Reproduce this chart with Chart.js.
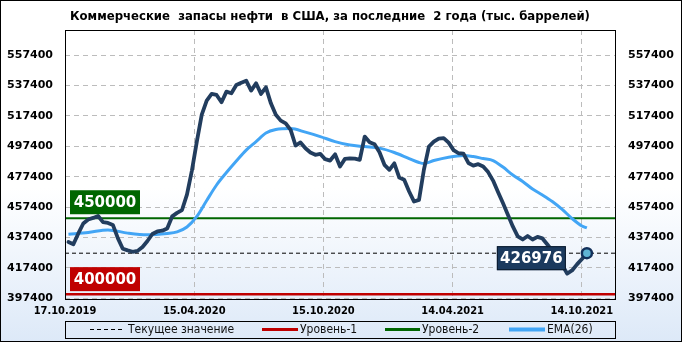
<!DOCTYPE html>
<html><head><meta charset="utf-8">
<script src="https://cdn.jsdelivr.net/npm/chart.js@4.4.1/dist/chart.umd.min.js"></script>
<style>
html,body{margin:0;padding:0;background:#fff;}
#wrap{position:relative;width:682px;height:342px;box-sizing:border-box;border:1px solid #000;
background:linear-gradient(to bottom,#ffffff 0%,#ffffff 55%,#dde9f8 100%);}
canvas{position:absolute;left:0;top:0;}
</style></head><body>
<div id="wrap"><canvas id="c" width="682" height="342"></canvas></div>
<script>
const chartTitle = 'Коммерческие  запасы нефти  в США, за последние  2 года (тыс. баррелей)';
const xTickLabels = ['17.10.2019','15.04.2020','15.10.2020','14.04.2021','14.10.2021'];
const xTickWeeks = [-0.7, 25.47, 51.64, 77.81, 103.98];
const yTickValues = [397400,417400,437400,457400,477400,497400,517400,537400,557400];
const legendLabels = ['Текущее значение','Уровень-1','Уровень-2','EMA(26)'];

// weekly commercial crude stocks, thousand barrels (week index 0 = 17.10.2019)
const stocks = [
434400,432900,440000,446550,449200,450200,451500,447400,446900,445600,
436900,429900,428800,427900,428500,431100,435000,439600,441300,441800,
443300,451200,453500,455400,465600,481400,500500,518300,527500,531900,
531200,526400,533400,532300,537800,539300,540600,534100,538900,531900,
536200,525700,518100,514300,512500,508200,497900,499900,496100,493300,
491800,492400,488900,488000,492100,484100,489100,489500,489300,488500,
503800,500000,498700,493500,485200,481900,486200,476800,475300,467600,
461000,462100,482100,497200,500500,502500,502800,499800,494900,492800,
492600,486400,484700,485600,484100,480400,474800,467300,460000,452300,
444600,438000,436000,438300,436000,437700,436700,432700,428500,424000,
419300,413500,415600,419600,423200,426976];

const emaWeeks = [0,4,8,12,16,20,22,24,26,28,30,32,34,36,38,40,42,45,48,51,54,57,60,63,66,69,71,72,74,77,80,82,84,86,88,90,92,94,96,98,100,102,104,105];
const emaValues = [439500,440600,442300,440200,439100,440000,441000,444200,451200,461700,471900,480100,487700,494900,500500,506100,508400,509100,506700,503800,500500,498200,497200,496200,493300,489300,486700,486000,488000,490200,491300,490600,489300,488000,483700,478500,474200,469200,465300,461000,455800,449800,444900,443600];

const level1 = 400000;
const level2 = 450000;
const currentValue = stocks[stocks.length - 1];

const X_MIN = -0.7, X_MAX = 110.9;
const Y_MIN = 396800, Y_MAX = 574000;

const lastIdx = stocks.length - 1;
const flat = v => [{x:X_MIN,y:v},{x:X_MAX,y:v}];

const deco = {
  id:'deco',
  afterDatasetsDraw(chart){
    const {ctx, chartArea:a, scales} = chart;
    const x = scales.x, y = scales.y;
    ctx.save();
    ctx.strokeStyle = '#000'; ctx.lineWidth = 1; ctx.setLineDash([]);
    ctx.strokeRect(a.left + 0.5, a.top + 0.5, a.right - a.left - 1, a.bottom - a.top);
    const box = (text, left, top, w, h, fill, stroke) => {
      ctx.fillStyle = fill; ctx.fillRect(left, top, w, h);
      if (stroke){ ctx.strokeStyle = stroke; ctx.lineWidth = 1; ctx.strokeRect(left+0.5, top+0.5, w-1, h-1); }
      ctx.fillStyle = '#fff'; ctx.font = 'bold 15px "DejaVu Sans"';
      ctx.textAlign = 'center'; ctx.textBaseline = 'middle';
      ctx.fillText(text, left + w/2, top + h/2 + 1);
    };
    const y2 = y.getPixelForValue(level2);
    box(String(level2), a.left + 5, y2 - 28, 70, 24, '#006600');
    const y1 = y.getPixelForValue(level1);
    box(String(level1), a.left + 5, y1 - 27, 70, 24, '#c00000');
    const lx = x.getPixelForValue(lastIdx), ly = y.getPixelForValue(currentValue);
    box(String(currentValue), lx - 90, ly - 7, 69, 24, '#1b3a5e', '#0b1a2c');
    ctx.restore();
  },
  afterDraw(chart){
    const {ctx, chartArea:a} = chart;
    ctx.save();
    ctx.fillStyle = '#000';
    ctx.font = 'bold 13px "DejaVu Sans Condensed", "DejaVu Sans"';
    ctx.textAlign = 'left'; ctx.textBaseline = 'middle';
    ctx.fillText(chartTitle, 69, 16);
    const top = 320, bot = 337, mid = 328.5;
    ctx.strokeStyle = '#000'; ctx.lineWidth = 1; ctx.setLineDash([]);
    ctx.strokeRect(a.left + 0.5, top + 0.5, a.right - a.left - 1, bot - top);
    const items = [
      {x1:89, x2:122, color:'#000', w:1, dash:[4,3], tx:127},
      {x1:261, x2:297, color:'#c00000', w:3, dash:[], tx:299},
      {x1:384, x2:419, color:'#006600', w:3, dash:[], tx:421},
      {x1:508, x2:544, color:'#42a5f5', w:4, dash:[], tx:546}
    ];
    ctx.font = '12px "DejaVu Sans Condensed", "DejaVu Sans"';
    ctx.textBaseline = 'middle';
    items.forEach((it, i) => {
      ctx.strokeStyle = it.color; ctx.lineWidth = it.w; ctx.setLineDash(it.dash);
      ctx.beginPath(); ctx.moveTo(it.x1, mid); ctx.lineTo(it.x2, mid); ctx.stroke();
      ctx.fillStyle = '#111';
      ctx.fillText(legendLabels[i], it.tx, mid + 0.5);
    });
    ctx.restore();
  }
};

const tickFont = {family:'"DejaVu Sans"', size:11, weight:'bold'};
const setYTicks = s => { s.ticks = yTickValues.map(v => ({value:v})); };

new Chart(document.getElementById('c'), {
  type:'line',
  data:{
    datasets:[
      {label:'stocks', data:stocks.map((v,i)=>({x:i,y:v})), borderColor:'#223d5e', borderWidth:3.8,
       tension:0, borderJoinStyle:'round', borderCapStyle:'round',
       pointRadius:c => c.dataIndex === lastIdx ? 5 : 0,
       pointBackgroundColor:'#5fb4d4', pointBorderColor:'#12305a', pointBorderWidth:2.5},
      {label:legendLabels[3], data:emaWeeks.map((w,i)=>({x:w,y:emaValues[i]})), borderColor:'#42a5f5',
       borderWidth:3, pointRadius:0, cubicInterpolationMode:'monotone'},
      {label:legendLabels[0], data:flat(currentValue), borderColor:'#000', borderWidth:1, borderDash:[4,3], pointRadius:0},
      {label:legendLabels[2], data:flat(level2), borderColor:'#006600', borderWidth:2, pointRadius:0},
      {label:legendLabels[1], data:flat(level1), borderColor:'#c00000', borderWidth:2.5, pointRadius:0}
    ]
  },
  options:{
    responsive:false, animation:false,
    layout:{padding:{top:29,left:0,right:0,bottom:0}},
    plugins:{legend:{display:false}, tooltip:{enabled:false}, title:{display:false}},
    scales:{
      x:{type:'linear', min:X_MIN, max:X_MAX, position:'bottom',
         afterFit:s=>{s.height=44;},
         afterBuildTicks:s=>{s.ticks = xTickWeeks.map(v=>({value:v}));},
         ticks:{callback:(v,i)=>xTickLabels[i], font:{family:'"DejaVu Sans Condensed", "DejaVu Sans"', size:11, weight:'bold'}, color:'#000', padding:6, autoSkip:false, maxRotation:0},
         grid:{color:'#bcbcbc', drawTicks:false, lineWidth:1},
         border:{display:false, dash:[5,4]}},
      y:{type:'linear', position:'left', min:Y_MIN, max:Y_MAX,
         afterFit:s=>{s.width=64;},
         afterBuildTicks:setYTicks,
         ticks:{callback:v=>String(v), font:tickFont, color:'#000', padding:12},
         grid:{color:'#bcbcbc', drawTicks:false, lineWidth:1},
         border:{display:false, dash:[5,4]}},
      y2:{type:'linear', position:'right', min:Y_MIN, max:Y_MAX,
         afterFit:s=>{s.width=67;},
         afterBuildTicks:setYTicks,
         ticks:{callback:v=>String(v), font:tickFont, color:'#000', padding:12},
         grid:{display:false, drawTicks:false},
         border:{display:false}}
    }
  },
  plugins:[deco]
});
</script>
</body></html>
